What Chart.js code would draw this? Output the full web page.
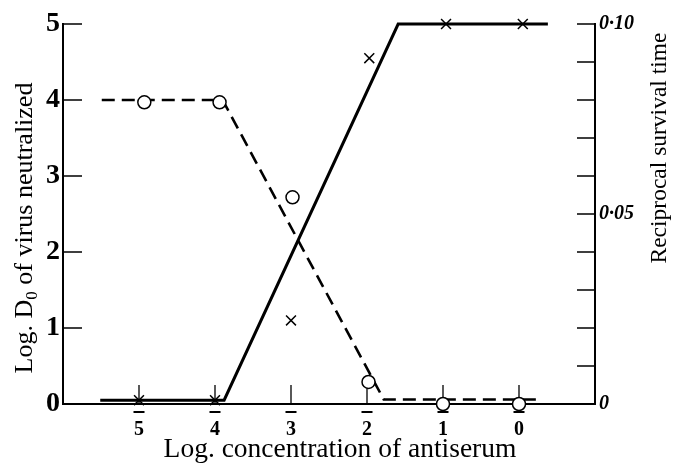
<!DOCTYPE html>
<html>
<head>
<meta charset="utf-8">
<script src="https://cdn.jsdelivr.net/npm/chart.js@4.4.1/dist/chart.umd.min.js"></script>
<style>
  body { margin: 0; background: #fff; }
</style>
</head>
<body>
<canvas id="myChart" width="674" height="465"></canvas>
<script>
// log concentration of antiserum (x)
const circleConc = [-4.93, -3.94, -2.98, -1.98, -1.0, 0.0]
const circleLogD0 = [3.97, 3.97, 2.72, 0.29, 0.0, 0.0]

const dashConc = [-5.49, -3.90, -1.78, 0.31]
const dashLogD0 = [4.0, 4.0, 0.06, 0.06]

const crossConc = [-5.0, -4.0, -3.0, -1.97, -0.96, 0.05]
const crossRecip = [0.001, 0.001, 0.022, 0.091, 0.100, 0.100]

const solidConc = [-5.51, -3.88, -1.59, 0.38]
const solidRecip = [0.001, 0.001, 0.100, 0.100]

const xTickValues = [-5, -4, -3, -2, -1, 0]
const rightLabels = { '0': '0', '0.05': '0\u00b705', '0.1': '0\u00b710' }

const serif = '"Liberation Serif", "DejaVu Serif", serif'

function pts(xs, ys) {
  return xs.map((x, i) => ({ x: x, y: ys[i] }))
}

// short tick marks pointing into the plot, like the printed figure,
// plus the bar over each negative log label
const inwardTicks = {
  id: 'inwardTicks',
  beforeDatasetsDraw(chart) {
    const ctx = chart.ctx
    const a = chart.chartArea
    const sx = chart.scales.x, yl = chart.scales.yL, yr = chart.scales.yR
    ctx.save()
    ctx.strokeStyle = '#000'
    ctx.lineWidth = 1.3
    ctx.beginPath()
    yl.ticks.forEach(t => {
      if (t.value <= 0) return
      const p = yl.getPixelForValue(t.value)
      ctx.moveTo(a.left, p); ctx.lineTo(a.left + 19, p)
    })
    yr.ticks.forEach(t => {
      if (t.value <= 0.0001) return
      const p = yr.getPixelForValue(t.value)
      ctx.moveTo(a.right, p); ctx.lineTo(a.right - 18, p)
    })
    xTickValues.forEach(v => {
      const p = sx.getPixelForValue(v)
      ctx.moveTo(p, a.bottom); ctx.lineTo(p, a.bottom - 19)
    })
    ctx.stroke()

    ctx.lineWidth = 2
    ctx.beginPath()
    xTickValues.forEach(v => {
      const p = sx.getPixelForValue(v)
      ctx.moveTo(p - 5.5, a.bottom + 8); ctx.lineTo(p + 5.5, a.bottom + 8)
    })
    ctx.stroke()
    ctx.restore()
  }
}

// axis titles, both vertical ones read bottom to top
const titles = {
  id: 'titles',
  afterDraw(chart) {
    const ctx = chart.ctx
    ctx.save()
    ctx.fillStyle = '#000'
    ctx.textBaseline = 'alphabetic'

    ctx.font = '27.5px ' + serif
    ctx.textAlign = 'center'
    ctx.fillText('Log. concentration of antiserum', 340, 457)

    // left title with subscript 0
    ctx.save()
    ctx.translate(32, 228)
    ctx.rotate(-Math.PI / 2)
    const p1 = 'Log. D', p2 = '0', p3 = ' of virus neutralized'
    ctx.font = '26px ' + serif
    const w1 = ctx.measureText(p1).width
    const w3 = ctx.measureText(p3).width
    ctx.font = '17px ' + serif
    const w2 = ctx.measureText(p2).width
    let x0 = -(w1 + w2 + w3) / 2
    ctx.textAlign = 'left'
    ctx.font = '26px ' + serif
    ctx.fillText(p1, x0, 0)
    ctx.font = '17px ' + serif
    ctx.fillText(p2, x0 + w1, 5)
    ctx.font = '26px ' + serif
    ctx.fillText(p3, x0 + w1 + w2, 0)
    ctx.restore()

    ctx.save()
    ctx.translate(666, 148)
    ctx.rotate(-Math.PI / 2)
    ctx.font = '23.5px ' + serif
    ctx.textAlign = 'center'
    ctx.fillText('Reciprocal survival time', 0, 0)
    ctx.restore()

    ctx.restore()
  }
}

const ctx = document.getElementById('myChart')

new Chart(ctx, {
  type: 'line',
  data: {
    datasets: [
      {
        label: 'Log D0 (observed)',
        data: pts(circleConc, circleLogD0),
        yAxisID: 'yL',
        showLine: false,
        pointStyle: 'circle',
        pointRadius: 6.5,
        pointBackgroundColor: '#fff',
        pointBorderColor: '#000',
        pointBorderWidth: 1.5,
        clip: false,
        order: 0
      },
      {
        label: 'Reciprocal survival time (observed)',
        data: pts(crossConc, crossRecip),
        yAxisID: 'yR',
        showLine: false,
        pointStyle: 'crossRot',
        pointRadius: 7,
        pointBorderColor: '#000',
        pointBorderWidth: 1.5,
        clip: false,
        order: 1
      },
      {
        label: 'Log D0 (fit)',
        data: pts(dashConc, dashLogD0),
        yAxisID: 'yL',
        borderColor: '#000',
        borderWidth: 2.6,
        borderDash: [13, 7],
        pointRadius: 0,
        tension: 0,
        clip: false,
        order: 2
      },
      {
        label: 'Reciprocal survival time (fit)',
        data: pts(solidConc, solidRecip),
        yAxisID: 'yR',
        borderColor: '#000',
        borderWidth: 3,
        pointRadius: 0,
        tension: 0,
        clip: false,
        order: 3
      }
    ]
  },
  options: {
    responsive: false,
    animation: false,
    layout: { padding: { top: 24, left: 0, right: 0, bottom: 0 } },
    plugins: {
      legend: { display: false },
      tooltip: { enabled: false }
    },
    scales: {
      x: {
        type: 'linear',
        min: -6,
        max: 1,
        grid: { display: true, drawOnChartArea: false, drawTicks: false },
        border: { display: true, color: '#000', width: 2 },
        ticks: {
          stepSize: 1,
          padding: 14,
          color: '#000',
          font: { family: serif, size: 20, weight: 'bold' },
          callback: v => (v >= -5 && v <= 0) ? String(Math.abs(v)) : ''
        },
        afterFit: s => { s.height = 61 }
      },
      yL: {
        type: 'linear',
        position: 'left',
        min: 0,
        max: 5,
        grid: { display: true, drawOnChartArea: false, drawTicks: false },
        border: { display: true, color: '#000', width: 2 },
        ticks: {
          stepSize: 1,
          padding: 3,
          color: '#000',
          font: { family: serif, size: 28, weight: 'bold' },
          callback: v => String(v)
        },
        afterFit: s => { s.width = 63 }
      },
      yR: {
        type: 'linear',
        position: 'right',
        min: 0,
        max: 0.1,
        grid: { display: true, drawOnChartArea: false, drawTicks: false },
        border: { display: true, color: '#000', width: 2 },
        ticks: {
          stepSize: 0.01,
          padding: 4,
          color: '#000',
          autoSkip: false,
          font: { family: serif, size: 20, weight: 'bold', style: 'italic' },
          callback: v => {
            const k = String(Math.round(v * 100) / 100)
            return rightLabels[k] !== undefined ? rightLabels[k] : ''
          }
        },
        afterFit: s => { s.width = 79 }
      }
    }
  },
  plugins: [inwardTicks, titles]
})
</script>
</body>
</html>
